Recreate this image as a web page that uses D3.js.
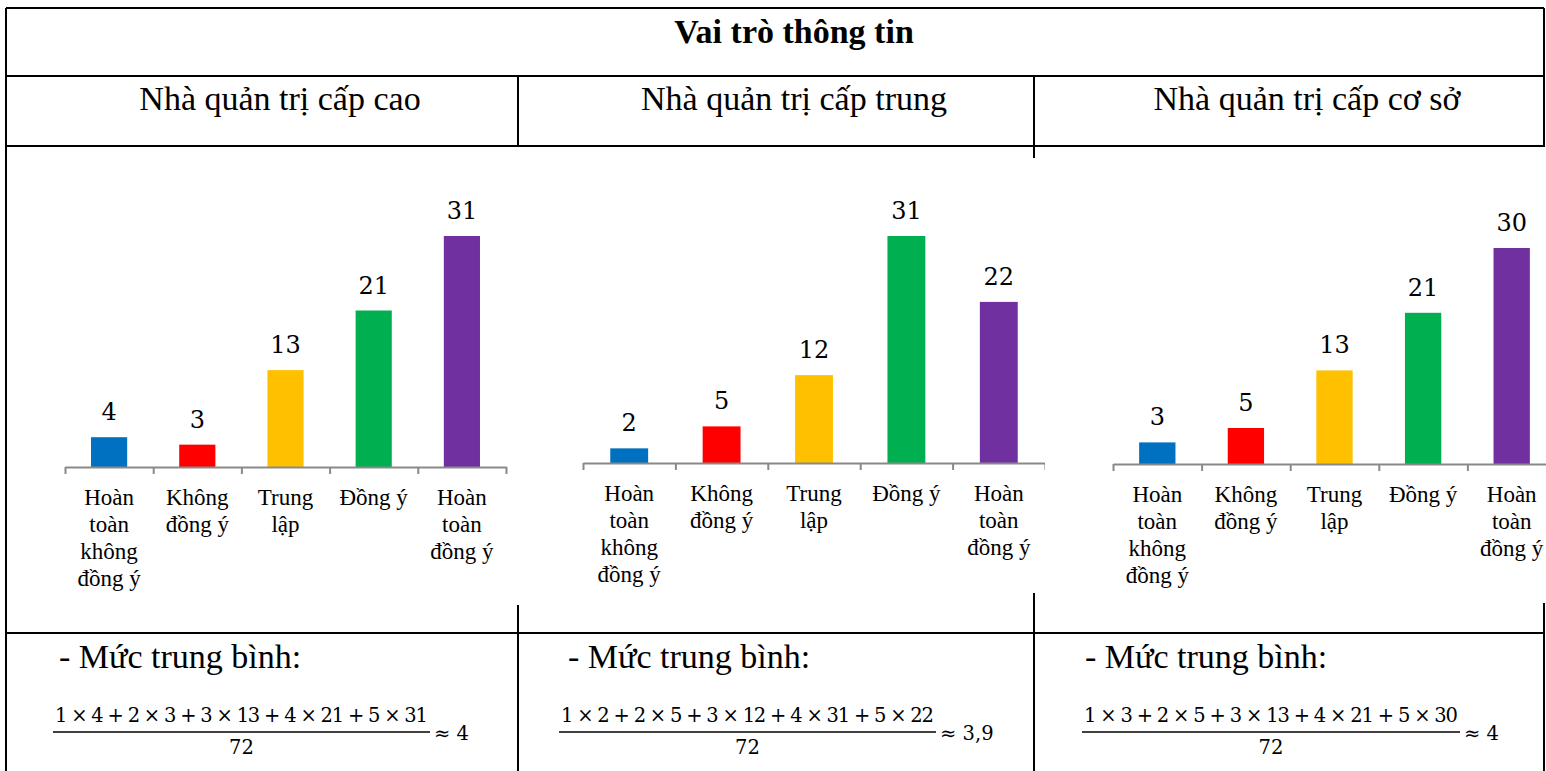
<!DOCTYPE html>
<html>
<head>
<meta charset="utf-8">
<script src="https://cdn.jsdelivr.net/npm/d3@7"></script>
<style>
  html, body { margin: 0; padding: 0; background: #fff; }
  svg { display: block; }
</style>
</head>
<body>
<div id="chart"></div>
<script>
// Data
const title = "Vai trò thông tin";
const groups = ["Nhà quản trị cấp cao", "Nhà quản trị cấp trung", "Nhà quản trị cấp cơ sở"];
const categories = ["Hoàn toàn không đồng ý", "Không đồng ý", "Trung lập", "Đồng ý", "Hoàn toàn đồng ý"];
const categoryLines = [["Hoàn", "toàn", "không", "đồng ý"], ["Không", "đồng ý"], ["Trung", "lập"], ["Đồng ý"], ["Hoàn", "toàn", "đồng ý"]];
const weights = [1, 2, 3, 4, 5];
const valuesCao = [4, 3, 13, 21, 31];
const valuesTrung = [2, 5, 12, 31, 22];
const valuesCoSo = [3, 5, 13, 21, 30];
const totals = [72, 72, 72];
const averages = ["4", "3,9", "4"];
const colors = ["#0070C0", "#FF0000", "#FFC000", "#00B050", "#7030A0"];

const series = [valuesCao, valuesTrung, valuesCoSo];

// Layout (pixels)
const W = 1546, H = 771;
const colX = [6, 518, 1034, 1544];
const rowY = [8, 76, 146, 633];
const panels = [
  { x0: 65, x1: 506, base: 467, top: 236, bg: [50, 147, 480, 458] },
  { x0: 583, x1: 1045, base: 463, top: 236, bg: [530, 158, 510, 435] },
  { x0: 1113, x1: 1556, base: 464, top: 248, bg: [1045, 147, 501, 456] },
];
const formula = [
  { mx: 59, fx0: 53, fx1: 430 },
  { mx: 568, fx0: 559, fx1: 936 },
  { mx: 1085, fx0: 1082, fx1: 1460 },
];
const serif = "'Liberation Serif', 'Times New Roman', serif";
const mathFont = "'DejaVu Serif', serif";

const svg = d3.select("#chart").append("svg").attr("width", W).attr("height", H);

// Table grid
const grid = svg.append("g").attr("stroke", "#000").attr("stroke-width", 2);
rowY.forEach(y => grid.append("line").attr("x1", colX[0]).attr("x2", colX[3]).attr("y1", y).attr("y2", y));
grid.append("line").attr("x1", colX[0]).attr("x2", colX[0]).attr("y1", rowY[0]).attr("y2", H);
grid.append("line").attr("x1", colX[3]).attr("x2", colX[3]).attr("y1", rowY[0]).attr("y2", H);
[colX[1], colX[2]].forEach(x => grid.append("line").attr("x1", x).attr("x2", x).attr("y1", rowY[1]).attr("y2", H));

// Title and headers
svg.append("text").attr("x", (colX[0] + colX[3]) / 2 + 19).attr("y", 43)
  .attr("text-anchor", "middle").attr("font-family", serif).attr("font-size", 34)
  .attr("font-weight", "bold").text(title);
groups.forEach((g, i) => {
  svg.append("text").attr("x", (colX[i] + colX[i + 1]) / 2 + 18).attr("y", 110)
    .attr("text-anchor", "middle").attr("font-family", serif).attr("font-size", 34).text(g);
});

// Bar charts
series.forEach((vals, i) => {
  const p = panels[i];
  const g = svg.append("g");
  g.append("rect").attr("x", p.bg[0]).attr("y", p.bg[1]).attr("width", p.bg[2]).attr("height", p.bg[3]).attr("fill", "#fff");

  const x = d3.scaleBand().domain(categories).range([p.x0, p.x1]).paddingInner(0.59).paddingOuter(0.295);
  const xCat = d3.scaleBand().domain(categories).range([p.x0, p.x1]);
  const xTick = d3.scaleLinear().domain([0, categories.length]).range([p.x0, p.x1]);
  const y = d3.scaleLinear().domain([0, d3.max(vals)]).range([p.base, p.top]);

  g.selectAll("rect.bar").data(vals).join("rect").attr("class", "bar")
    .attr("x", (d, j) => x(categories[j]))
    .attr("y", d => y(d))
    .attr("width", x.bandwidth())
    .attr("height", d => y(0) - y(d))
    .attr("fill", (d, j) => colors[j]);

  g.selectAll("text.val").data(vals).join("text").attr("class", "val")
    .attr("x", (d, j) => x(categories[j]) + x.bandwidth() / 2)
    .attr("y", d => y(d) - 17)
    .attr("text-anchor", "middle").attr("font-family", mathFont).attr("font-size", 24)
    .attr("fill", "#000").text(d => d);

  g.append("g").attr("transform", `translate(0,${p.base})`)
    .call(d3.axisBottom(xTick).tickValues(d3.range(categories.length + 1)).tickFormat("").tickSize(7).tickSizeOuter(0))
    .call(a => a.select(".domain").attr("stroke", "#898989").attr("stroke-width", 2))
    .call(a => a.selectAll(".tick line").attr("stroke", "#898989").attr("stroke-width", 2));

  categories.forEach((c, j) => {
    const t = g.append("text").attr("text-anchor", "middle").attr("font-family", serif).attr("font-size", 23);
    categoryLines[j].forEach((ln, k) => {
      t.append("tspan").attr("x", xCat(c) + xCat.bandwidth() / 2).attr("y", p.base + 38 + k * 27).text(ln);
    });
  });
});

// Bottom row: weighted average formulas
series.forEach((vals, i) => {
  const f = formula[i];
  svg.append("text").attr("x", f.mx).attr("y", 668).attr("font-family", serif).attr("font-size", 34).text("- Mức trung bình:");
  const numer = vals.map((v, j) => `${weights[j]} × ${v}`).join(" + ");
  const cx = (f.fx0 + f.fx1) / 2;
  svg.append("text").attr("x", cx).attr("y", 722).attr("text-anchor", "middle")
    .attr("font-family", mathFont).attr("font-size", 19.5)
    .attr("textLength", f.fx1 - f.fx0 - 4).attr("lengthAdjust", "spacing").text(numer);
  svg.append("line").attr("x1", f.fx0).attr("x2", f.fx1).attr("y1", 732).attr("y2", 732)
    .attr("stroke", "#000").attr("stroke-width", 1.5);
  svg.append("text").attr("x", cx).attr("y", 754).attr("text-anchor", "middle")
    .attr("font-family", mathFont).attr("font-size", 19.5).text(totals[i]);
  svg.append("text").attr("x", f.fx1 + 4).attr("y", 740)
    .attr("font-family", mathFont).attr("font-size", 19.5).text("≈ " + averages[i]);
});
</script>
</body>
</html>
